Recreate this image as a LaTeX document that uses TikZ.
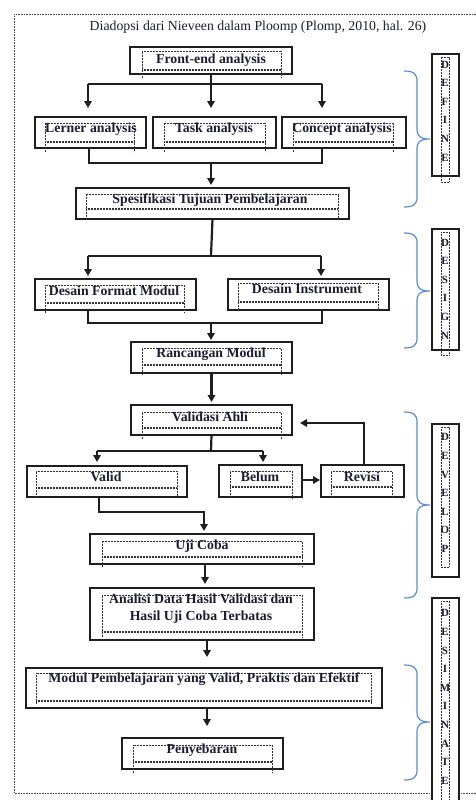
\documentclass[tikz,border=0pt]{standalone}
\usepackage{fontspec}
\setmainfont{Liberation Serif}
\usetikzlibrary{arrows.meta,calc}
\definecolor{txtc}{HTML}{1C1C30}
\definecolor{brcol}{HTML}{5B8BD0}
\definecolor{boxc}{HTML}{1E1E1E}
\newcommand\mybox[5]{%
  \node[bx, minimum width={#4-#2}, minimum height={#5-#3}] (#1) at ({(#2+#4)/2},{(#3+#5)/2}) {};}
\newcommand\inbox[5]{%
  \draw[inner] (#1,#5) -- (#1,#2) -- (#3,#2) -- (#3,#5);
  \draw[inner] (#1,#4) -- (#3,#4);
  \draw[inner] (#1,{#4+1.5}) -- (#3,{#4+1.5});}
\newcommand\mybrace[3]{%
  \draw[brc] (404,#1) .. controls (414,#1) and (417,{#1+3}) .. (417,{#1+10})
    -- (417,{#2-10}) .. controls (417,{#2-3}) and (420,#2) .. (430,#2)
    .. controls (420,#2) and (417,{#2+3}) .. (417,{#2+10})
    -- (417,{#3-10}) .. controls (417,{#3-3}) and (414,#3) .. (404,#3);}
\begin{document}
\begin{tikzpicture}[x=1pt,y=-1pt,
  bx/.style={draw=boxc, line width=2.6pt, fill=white, inner sep=0pt, outer sep=0pt},
  inner/.style={draw=black!80, line width=0.7pt, dash pattern=on 0.7pt off 0.8pt},
  txt/.style={font=\bfseries\fontsize{13.8}{16}\selectfont, text=txtc, inner sep=0pt, align=center},
  ttl/.style={font=\fontsize{13.8}{16}\selectfont, text=txtc, inner sep=0pt},
  side/.style={font=\bfseries\fontsize{11}{18.6}\selectfont, text=txtc, inner sep=0pt, align=center},
  ln/.style={draw=boxc, line width=2.2pt},
  ar/.style={draw=boxc, line width=2.2pt, -{Triangle[length=7pt,width=7.5pt]}},
  brc/.style={draw=brcol, line width=1.2pt},
  frame/.style={draw=black!70, line width=0.8pt, dash pattern=on 0.8pt off 0.8pt}]
\useasboundingbox (0,0) rectangle (476,800);
% outer frame
\draw[frame] (476,14) -- (14,14) -- (14,793) -- (476,793);
\node[ttl] (title) at (258,27) {Diadopsi dari Nieveen dalam Ploomp (Plomp, 2010, hal. 26)};

% boxes
\mybox{fe}{130}{47}{292}{74}
\mybox{lerner}{35}{117}{146}{148}
\mybox{task}{153}{117}{276}{148}
\mybox{concept}{282}{117}{406}{148}
\mybox{spes}{76}{188}{349}{219}
\mybox{dfm}{35}{279}{196}{310}
\mybox{di}{228}{279}{389}{310}
\mybox{ranc}{131}{342}{292}{373}
\mybox{val}{131}{405}{292}{435}
\mybox{valid}{27}{466}{187}{497}
\mybox{belum}{219}{465}{302}{497}
\mybox{revisi}{321}{465}{404}{497}
\mybox{uji}{90}{534}{314}{564}
\mybox{anal}{90}{588}{314}{640}
\mybox{modul}{26}{668}{382}{708}
\mybox{peny}{122}{738}{283}{769}

% inner dotted frames
\inbox{142}{51}{281}{69}{78}
\inbox{45}{123}{134}{141}{152}
\inbox{164}{123}{265}{141}{152}
\inbox{293}{123}{393}{141}{152}
\inbox{86}{194}{338}{208}{220}
\inbox{45}{285}{184}{302}{313}
\inbox{238}{283}{378}{301}{310}
\inbox{142}{348}{281}{364}{375}
\inbox{142}{412}{281}{427}{439}
\inbox{36}{471}{177}{487}{498}
\inbox{230}{471}{292}{486}{498}
\inbox{331}{471}{392}{486}{498}
\inbox{102}{541}{302}{556}{567}
\inbox{102}{595}{302}{631}{637}
\inbox{36}{673}{371}{700}{704}
\inbox{133}{745}{272}{761}{773}

% texts
\node[txt] (fe-t) at (211,60) {Front-end analysis};
\node[txt] (lerner-t) at (91,129) {Lerner analysis};
\node[txt] (task-t) at (214,129) {Task analysis};
\node[txt] (concept-t) at (342,129) {Concept analysis};
\node[txt] (spes-t) at (210,200) {Spesifikasi Tujuan Pembelajaran};
\node[txt] (dfm-t) at (114,291) {Desain Format Modul};
\node[txt] (di-t) at (307,289) {Desain Instrument};
\node[txt] (ranc-t) at (211,354) {Rancangan Modul};
\node[txt] (val-t) at (210,417) {Validasi Ahli};
\node[txt] (valid-t) at (106,477) {Valid};
\node[txt] (belum-t) at (260,477) {Belum};
\node[txt] (revisi-t) at (362,477) {Revisi};
\node[txt] (uji-t) at (202,546) {Uji Coba};
\node[txt, font=\bfseries\fontsize{13.8}{17}\selectfont] (anal-t) at (201,609) {Analisi Data Hasil Validasi dan\\Hasil Uji Coba Terbatas};
\node[txt] (modul-t) at (204,679) {Modul Pembelajaran yang Valid, Praktis dan Efektif};
\node[txt] (peny-t) at (202,750) {Penyebaran};

% connectors
\coordinate (a1) at (211,84);
\coordinate (aL) at (88,84);
\coordinate (aR) at (322,84);
\draw[ln] (fe.south) -- (a1);
\draw[ln] (aL) -- (aR);
\draw[ar, shorten >=9pt] (aL) -- (aL |- lerner.north);
\draw[ar, shorten >=9pt] (a1) -- (a1 |- task.north);
\draw[ar, shorten >=9pt] (aR) -- (aR |- concept.north);

\coordinate (b1) at (211,163);
\coordinate (bL) at (89,163);
\coordinate (bR) at (322,163);
\draw[ln] (lerner.south -| bL) -- (bL) -- (bR) -- (concept.south -| bR);
\draw[ar, shorten >=3pt] (b1) -- (b1 |- spes.north);

\coordinate (c1) at (211,256);
\coordinate (cL) at (88,256);
\coordinate (cR) at (321,256);
\draw[ln] (spes.south) -- (c1);
\draw[ln] (cL) -- (cR);
\draw[ar, shorten >=3pt] (cL) -- (cL |- dfm.north);
\draw[ar, shorten >=3pt] (cR) -- (cR |- di.north);

\coordinate (d1) at (211,323);
\coordinate (dL) at (88,323);
\coordinate (dR) at (322,323);
\draw[ln] (dfm.south -| dL) -- (dL) -- (dR) -- (di.south -| dR);
\draw[ar, shorten >=2pt] (d1) -- (d1 |- ranc.north);

\draw[ar, shorten >=3pt] (ranc.south) -- (val.north);

\coordinate (e1) at (211,451);
\coordinate (eL) at (97,451);
\coordinate (eR) at (263,451);
\draw[ln] (val.south) -- (e1);
\draw[ln] (eL) -- (eR);
\draw[ar, shorten >=4pt] (eL) -- (eL |- valid.north);
\draw[ar, shorten >=3pt] (eR) -- (eR |- belum.north);

\draw[ar, shorten >=1pt] (belum.east |- 0,480) -- (revisi.west |- 0,480);

\coordinate (f1) at (364,423);
\draw[ar, shorten >=8pt] (revisi.north -| f1) -- (f1) -- (val.east |- f1);

\coordinate (g1) at (99,512);
\coordinate (g2) at (204,512);
\draw[ar, shorten >=3pt] (valid.south -| g1) -- (g1) -- (g2) -- (g2 |- uji.north);

\coordinate (h1) at (205,564);
\draw[ar, shorten >=4pt] (h1) -- (h1 |- anal.north);
\coordinate (h2) at (207,640);
\draw[ar, shorten >=11pt] (h2) -- (h2 |- modul.north);
\coordinate (h3) at (207,708);
\draw[ar, shorten >=12pt] (h3) -- (h3 |- peny.north);

% side phase boxes
\mybox{sdef}{432}{54}{459}{176}
\mybox{sdes}{432}{229}{459}{350}
\mybox{sdev}{432}{424}{459}{577}
\mybox{sdis}{432}{598}{459}{812}
\draw[inner] (441,57) rectangle (449,182);
\draw[inner] (441,232) rectangle (449,355);
\draw[inner] (441,427) rectangle (449,567);
\draw[inner] (441,601) rectangle (449,805);
\node[side] (sdef-t) at (445,111) {D\\E\\F\\I\\N\\E};
\node[side] (sdes-t) at (445,289) {D\\E\\S\\I\\G\\N};
\node[side] (sdev-t) at (445,493) {D\\E\\V\\E\\L\\O\\P};
\node[side] (sdis-t) at (445,697) {D\\E\\S\\I\\M\\I\\N\\A\\T\\E};

% braces
\mybrace{71}{139}{207}
\mybrace{233}{291}{348}
\mybrace{412}{505}{598}
\mybrace{665}{722}{780}
\end{tikzpicture}
\end{document}
